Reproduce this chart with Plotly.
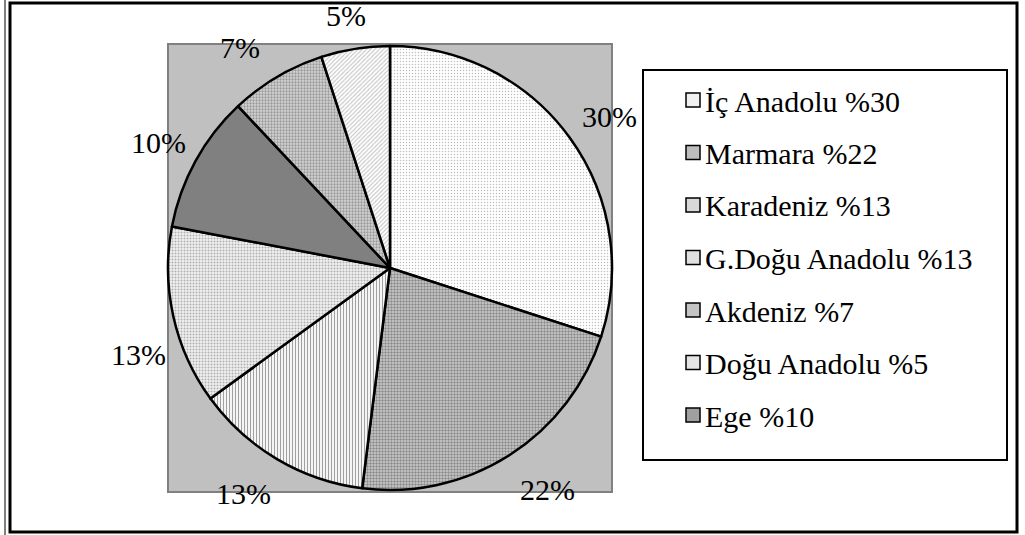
import math
import plotly.graph_objects as go

# Regional shares (percent), in the order the slices run clockwise from 12 o'clock
regions = ["İç Anadolu", "Marmara", "Karadeniz", "G.Doğu Anadolu", "Ege", "Akdeniz", "Doğu Anadolu"]
shares = [30, 22, 13, 13, 10, 7, 5]

# Order of the entries in the key box
legend_order = ["İç Anadolu", "Marmara", "Karadeniz", "G.Doğu Anadolu", "Akdeniz", "Doğu Anadolu", "Ege"]

# Fill style per region: (background, foreground, pattern shape, solidity, swatch colour)
fills = {
    "İç Anadolu":     ("#ffffff", "#c0c0c0", ".", 0.2, "#f0f0f0"),
    "Marmara":        ("#d0d0d0", "#8a8a8a", ".", 0.5, "#bdbdbd"),
    "Karadeniz":      ("#ffffff", "#a0a0a0", "|", 0.4, "#d8d8d8"),
    "G.Doğu Anadolu": ("#f0f0f0", "#b0b0b0", ".", 0.35, "#e0e0e0"),
    "Ege":            ("#808080", "#808080", "", 0.0, "#a0a0a0"),
    "Akdeniz":        ("#d4d4d4", "#999999", ".", 0.45, "#c4c4c4"),
    "Doğu Anadolu":   ("#ffffff", "#c4c4c4", "/", 0.35, "#e4e4e4"),
}

W, H = 1025, 535
FONT = "'Liberation Serif', 'Times New Roman', Times, serif"


def px(x):
    return x / W


def py(y):
    return 1 - y / H


# Plot-area square (pixels)
sq_l, sq_t, sq_r, sq_b = 168, 44, 612, 492
cx, cy = (sq_l + sq_r) / 2, (sq_t + sq_b) / 2
label_r = 266
# small per-label nudges so the texts sit where they read best
label_nudge = [(4, 5), (15, -3), (-11, -3), (8, 28), (2, 3), (-15, 8), (-2, 10)]

fig = go.Figure()

fig.add_trace(go.Pie(
    labels=regions,
    values=shares,
    sort=False,
    direction="clockwise",
    rotation=0,
    textinfo="none",
    hoverinfo="label+percent",
    showlegend=False,
    domain=dict(x=[px(sq_l), px(sq_r)], y=[py(sq_b), py(sq_t)]),
    marker=dict(
        colors=[fills[r][0] for r in regions],
        line=dict(color="#000000", width=2.5),
        pattern=dict(
            shape=[fills[r][2] for r in regions],
            fgcolor=[fills[r][1] for r in regions],
            bgcolor=[fills[r][0] for r in regions],
            solidity=[fills[r][3] for r in regions],
            size=3,
        ),
    ),
))

shapes = []
annotations = []

# grey plot area behind the pie
shapes.append(dict(type="rect", xref="paper", yref="paper",
                   x0=px(sq_l), x1=px(sq_r), y0=py(sq_b), y1=py(sq_t),
                   fillcolor="#c0c0c0", line=dict(color="#808080", width=2),
                   layer="below"))

# percentage labels around the pie, placed from each slice's mid angle
total = sum(shares)
cum = 0
for i, v in enumerate(shares):
    mid = (cum + v / 2) / total * 2 * math.pi
    cum += v
    lx = cx + label_r * math.sin(mid) + label_nudge[i][0]
    ly = cy - label_r * math.cos(mid) + label_nudge[i][1]
    annotations.append(dict(x=px(lx), y=py(ly), xref="paper", yref="paper",
                            text=f"{round(v / total * 100)}%", showarrow=False,
                            xanchor="center", yanchor="middle",
                            font=dict(family=FONT, size=30, color="#000000")))

# key box
lg_l, lg_t, lg_r, lg_b = 643, 70, 1007, 460
shapes.append(dict(type="rect", xref="paper", yref="paper",
                   x0=px(lg_l), x1=px(lg_r), y0=py(lg_b), y1=py(lg_t),
                   fillcolor="#ffffff", line=dict(color="#000000", width=2)))
row0, row_gap, sw = 100, 52.5, 14
value_of = dict(zip(regions, shares))
for k, name in enumerate(legend_order):
    yc = row0 + k * row_gap
    shapes.append(dict(type="rect", xref="paper", yref="paper",
                       x0=px(686), x1=px(686 + sw), y0=py(yc + sw / 2), y1=py(yc - sw / 2),
                       fillcolor=fills[name][4], line=dict(color="#000000", width=1.5)))
    annotations.append(dict(x=px(703), y=py(yc + 1), xref="paper", yref="paper",
                            text=f"{name} %{value_of[name]}", showarrow=False,
                            xanchor="left", yanchor="middle",
                            font=dict(family=FONT, size=30, color="#000000")))

# outer frame
shapes.append(dict(type="rect", xref="paper", yref="paper",
                   x0=px(10), x1=px(1017), y0=py(532), y1=py(3),
                   line=dict(color="#000000", width=3)))
shapes.append(dict(type="line", xref="paper", yref="paper",
                   x0=px(5), x1=px(5), y0=0, y1=1,
                   line=dict(color="#000000", width=1)))

fig.update_layout(
    width=W, height=H,
    margin=dict(l=0, r=0, t=0, b=0),
    paper_bgcolor="#ffffff",
    plot_bgcolor="#ffffff",
    font=dict(family=FONT),
    shapes=shapes,
    annotations=annotations,
    showlegend=False,
)

fig.write_html("out.html")
